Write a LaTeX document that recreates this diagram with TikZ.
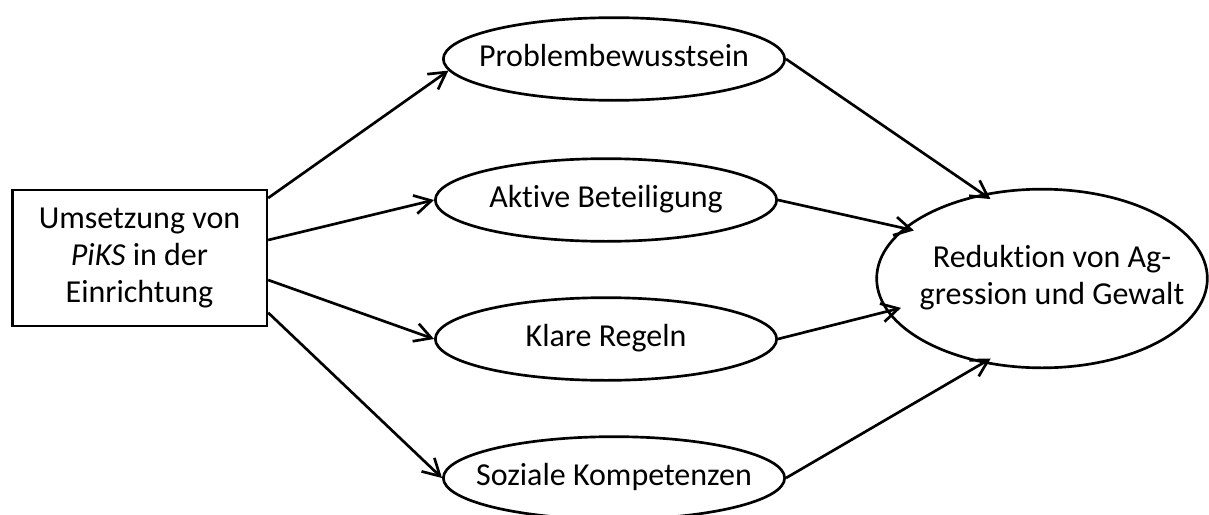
\documentclass[tikz,border=0pt]{standalone}
\usepackage{fontspec}
\setmainfont{Carlito}[Ligatures=NoCommon]
\usetikzlibrary{shapes.geometric,arrows.meta}
% a label of fixed zero width, so the ellipse keeps its own size
\newcommand{\fixedlabel}[1]{\makebox[0pt]{\begin{tabular}{@{}c@{}}#1\end{tabular}}}
\begin{document}
\begin{tikzpicture}[x=0.75pt,y=-0.75pt,
  every node/.style={font=\fontsize{24}{28}\selectfont, text=black},
  link/.style={line width=2pt, -{Straight Barb[length=12.5pt,width=14pt,line width=2pt]}},
  srcbox/.style={draw, line width=2pt, minimum width=191pt, minimum height=102pt, align=center, inner sep=0pt},
  factor/.style={draw, ellipse, line width=2pt, minimum width=256pt, minimum height=62pt, inner sep=0pt},
  goal/.style={draw, ellipse, line width=2pt, minimum width=248pt, minimum height=134pt, inner sep=0pt}]
\useasboundingbox (0,0) rectangle (1209,514);

% source and outcome
\node[srcbox] (src) at (139.5,258) {Umsetzung von\\\textit{PiKS} in der\\Einrichtung};
\node[goal] (red) at (1042,278.5) {\hspace*{15pt}\raisebox{-6pt}{\fixedlabel{Reduktion von Ag-\\gression und Gewalt}}};

% mediating factors
\node[factor] (prob) at (614,59)  {\raisebox{-3pt}{\fixedlabel{Problembewusstsein}}};
\node[factor] (akt)  at (606,200) {\raisebox{-3pt}{\fixedlabel{Aktive Beteiligung}}};
\node[factor] (klar) at (606,339) {\raisebox{-3pt}{\fixedlabel{Klare Regeln}}};
\node[factor] (soz)  at (614,478) {\raisebox{-3pt}{\fixedlabel{Soziale Kompetenzen}}};

% paths from the source to each factor
\draw[link] ([yshift=45pt]src.east)    -- (prob.184);
\draw[link] ([yshift=13.5pt]src.east)  -- (akt.west);
\draw[link] ([yshift=-16.5pt]src.east) -- (klar.west);
\draw[link] ([yshift=-41pt]src.east)   -- (soz.west);

% paths from each factor to the outcome
\draw[link, shorten >=-7pt]  (prob.east) -- (red.125);
\draw[link, shorten >=-8pt]  (akt.east)  -- (red.160);
\draw[link, shorten >=-11pt] (klar.east) -- (red.192);
\draw[link, shorten >=-7pt]  (soz.east)  -- (red.235);
\end{tikzpicture}
\end{document}
